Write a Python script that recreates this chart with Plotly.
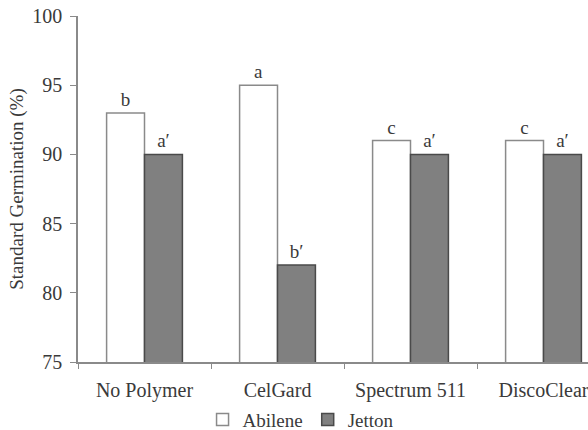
import plotly.graph_objects as go

categories = ["No Polymer", "CelGard", "Spectrum 511", "DiscoClear"]
abilene = [93, 95, 91, 91]
jetton = [90, 82, 90, 90]
abilene_letters = ["b", "a", "c", "c"]
jetton_letters = ["a\u2032", "b\u2032", "a\u2032", "a\u2032"]
y_ticks = [75, 80, 85, 90, 95, 100]

FONT = "Liberation Serif"
TXT = "#3a3a3a"

fig = go.Figure()
fig.add_trace(go.Bar(
    x=categories, y=abilene, name="Abilene",
    marker=dict(color="white", line=dict(color="#8a8a8a", width=1.5)),
    text=abilene_letters, textposition="outside", cliponaxis=False,
    textfont=dict(family=FONT, size=19, color=TXT),
))
fig.add_trace(go.Bar(
    x=categories, y=jetton, name="Jetton",
    marker=dict(color="#808080", line=dict(color="#4a4a4a", width=1.5)),
    text=jetton_letters, textposition="outside", cliponaxis=False,
    textfont=dict(family=FONT, size=19, color=TXT),
))

fig.update_layout(
    width=588, height=430,
    margin=dict(l=78, r=0, t=16, b=68),
    paper_bgcolor="white", plot_bgcolor="white",
    barmode="group", bargap=0.43, bargroupgap=0,
    font=dict(family=FONT, size=19, color=TXT),
    showlegend=True,
    legend=dict(orientation="h", xref="container", yref="container",
                x=0.512, y=0.024, xanchor="center", yanchor="middle",
                font=dict(family=FONT, size=19, color=TXT),
                itemwidth=30, tracegroupgap=0, bgcolor="rgba(0,0,0,0)"),
)
fig.update_xaxes(
    range=[-0.5, -0.5 + 510 / 133], tickson="boundaries",
    ticks="outside", ticklen=5, tickcolor="#8a8a8a",
    showline=True, linecolor="#8a8a8a", linewidth=1.5,
    showgrid=False, tickfont=dict(family=FONT, size=20, color=TXT),
    ticklabelstandoff=9, automargin=False,
)
fig.update_yaxes(
    range=[75, 100], tickvals=y_ticks,
    ticks="outside", ticklen=6, tickcolor="#8a8a8a",
    showline=True, linecolor="#8a8a8a", linewidth=1.5,
    showgrid=False, zeroline=False,
    tickfont=dict(family=FONT, size=20, color=TXT),
    ticklabelstandoff=4, automargin=False,
    title=dict(text="Standard Germination (%)", font=dict(family=FONT, size=19, color=TXT), standoff=4),
)

fig.write_html("out.html")
